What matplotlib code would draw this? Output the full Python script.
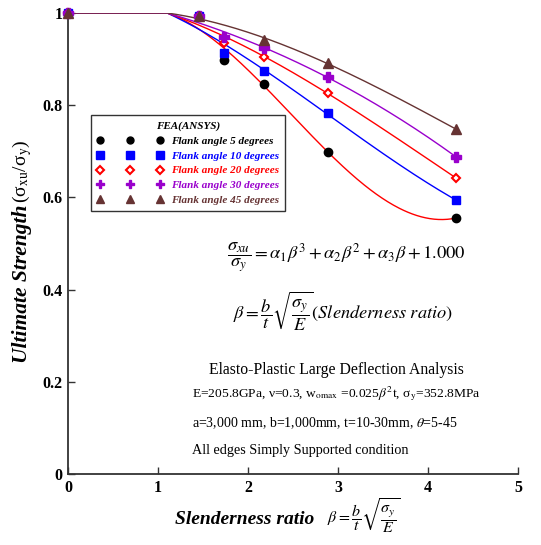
import numpy as np
import matplotlib
matplotlib.use('Agg')
import matplotlib.pyplot as plt
from matplotlib.lines import Line2D

# ---- data ----
beta = [0.0, 1.46, 1.73, 2.18, 2.89, 4.31]
s5 = [1.0, 0.993, 0.898, 0.846, 0.699, 0.555]
s10 = [1.0, 0.993, 0.913, 0.874, 0.783, 0.594]
s20 = [1.0, 0.993, 0.935, 0.905, 0.827, 0.642]
s30 = [1.0, 0.993, 0.948, 0.925, 0.861, 0.688]
beta45 = [0.0, 1.46, 2.18, 2.89, 4.31]
s45 = [1.0, 0.993, 0.941, 0.892, 0.748]
knee = 1.1  # end of the flat part of the fitted curves

labels = ['Flank angle 5 degrees', 'Flank angle 10 degrees', 'Flank angle 20 degrees',
          'Flank angle 30 degrees', 'Flank angle 45 degrees']

plt.rcParams['font.family'] = ['Liberation Serif', 'DejaVu Serif']
plt.rcParams['mathtext.fontset'] = 'stix'

fig = plt.figure(figsize=(5.41, 5.45), dpi=100)
ax = fig.add_axes([68/541, 71/545, 450/541, 461/545])

series = [
    (beta, s5, dict(marker='o', color='black', ms=6, mfc='black', mec='black'), 'red', 'black'),
    (beta, s10, dict(marker='s', color='#0000FF', ms=6.3, mfc='#0000FF', mec='#0000FF'), '#0000FF', '#0000FF'),
    (beta, s20, dict(marker='D', color='red', ms=4.3, mfc='white', mec='red', mew=1.5), 'red', 'red'),
    (beta, s30, dict(marker='P', color='#9900CC', ms=7, mfc='#9900CC', mec='#9900CC'), '#9900CC', '#9900CC'),
    (beta45, s45, dict(marker='^', color='#663333', ms=6.5, mfc='#663333', mec='#663333'), '#663333', '#663333'),
]
leg_ms = [5.0, 5.2, 3.6, 5.8, 5.2]

handles = []
for (xs, ys, mk, lc, tc), lm in zip(series, leg_ms):
    xs = np.asarray(xs); ys = np.asarray(ys)
    fx = np.concatenate([[knee], xs[xs > 0]])
    fy = np.concatenate([[1.0], ys[xs > 0]])
    w = np.ones_like(fx); w[0] = 6.0
    c = np.polyfit(fx, fy, 3, w=w)
    xx = np.linspace(knee, xs.max(), 200)
    yy = np.polyval(c, xx)
    ax.plot(np.concatenate([[0.0], xx]), np.concatenate([[1.0], yy]), color=lc, lw=1.0, zorder=2)
    ax.plot(xs, ys, ls='none', clip_on=False, zorder=3, **mk)
    hk = dict(mk); hk['ms'] = lm
    handles.append(Line2D([], [], ls='none', **hk))

ax.set_xlim(0, 5)
ax.set_ylim(0, 1)
ax.set_xticks([0, 1, 2, 3, 4, 5])
ax.set_yticks([0, 0.2, 0.4, 0.6, 0.8, 1])
ax.set_xticklabels(['0', '1', '2', '3', '4', '5'])
ax.set_yticklabels(['0', '0.2', '0.4', '0.6', '0.8', '1'])
for s in ['top', 'right']:
    ax.spines[s].set_visible(False)
for s in ['left', 'bottom']:
    ax.spines[s].set_color('#333333')
    ax.spines[s].set_linewidth(1.3)
ax.tick_params(direction='in', length=5, width=1, colors='#333333', labelcolor='black',
               labelsize=11.5, pad=4)
for t in ax.get_xticklabels() + ax.get_yticklabels():
    t.set_fontweight('bold')

leg = ax.legend(handles, labels, title='FEA(ANSYS)', numpoints=3, handlelength=6.0,
                handletextpad=0.7, loc='upper left', bbox_to_anchor=(0.05, 0.778),
                fancybox=False, edgecolor='#333333', framealpha=1,
                prop=dict(size=8, weight='bold', style='italic'), borderpad=0.55,
                labelspacing=0.45, borderaxespad=0)
leg.get_frame().set_linewidth(1.0)
leg.get_title().set_fontsize(8)
leg.get_title().set_fontweight('bold')
leg.get_title().set_fontstyle('italic')
for t, (_, _, _, _, tc) in zip(leg.get_texts(), series):
    t.set_color(tc)

# equations and notes
ax.text(0.619, 0.470, r'$\dfrac{\sigma_{xu}}{\sigma_y}=\alpha_1\beta^3+\alpha_2\beta^2+\alpha_3\beta+1.000$',
        transform=ax.transAxes, ha='center', va='center', fontsize=13.3)
ax.text(0.612, 0.352, r'$\beta=\dfrac{b}{t}\sqrt{\dfrac{\sigma_y}{E}}(Slenderness\ ratio)$',
        transform=ax.transAxes, ha='center', va='center', fontsize=13.2)
ax.text(0.597, 0.226, 'Elasto-Plastic Large Deflection Analysis', transform=ax.transAxes,
        ha='center', va='center', fontsize=11.3)
ax.text(0.275, 0.174, r'E=205.8GPa, ν=0.3, w$_{\mathrm{omax}}$ =0.025$\beta^2$t, σ$_{\mathrm{y}}$=352.8MPa',
        transform=ax.transAxes, ha='left', va='center', fontsize=9.7)
ax.text(0.275, 0.111, r'a=3,000 mm, b=1,000mm, t=10-30mm, $\theta$=5-45', transform=ax.transAxes,
        ha='left', va='center', fontsize=10)
ax.text(0.275, 0.052, 'All edges Simply Supported condition', transform=ax.transAxes,
        ha='left', va='center', fontsize=10.2)

# axis titles
fig.text(245/541, 1 - 520/545, 'Slenderness ratio', ha='center', va='center',
         fontsize=14, fontweight='bold', style='italic')
fig.text(364/541, 1 - 516/545, r'$\beta=\dfrac{b}{t}\sqrt{\dfrac{\sigma_y}{E}}$', ha='center',
         va='center', fontsize=11.5)
fig.text(22/541, 1 - 363/545, 'Ultimate Strength', rotation=90, ha='center', va='bottom',
         fontsize=15.5, fontweight='bold', style='italic')
fig.text(22/541, 1 - 203/545, r'(σ$_{\mathrm{xu}}$/σ$_{\mathrm{y}}$)', rotation=90, ha='center',
         va='bottom', fontsize=14)

fig.savefig('out.png', dpi=100)
